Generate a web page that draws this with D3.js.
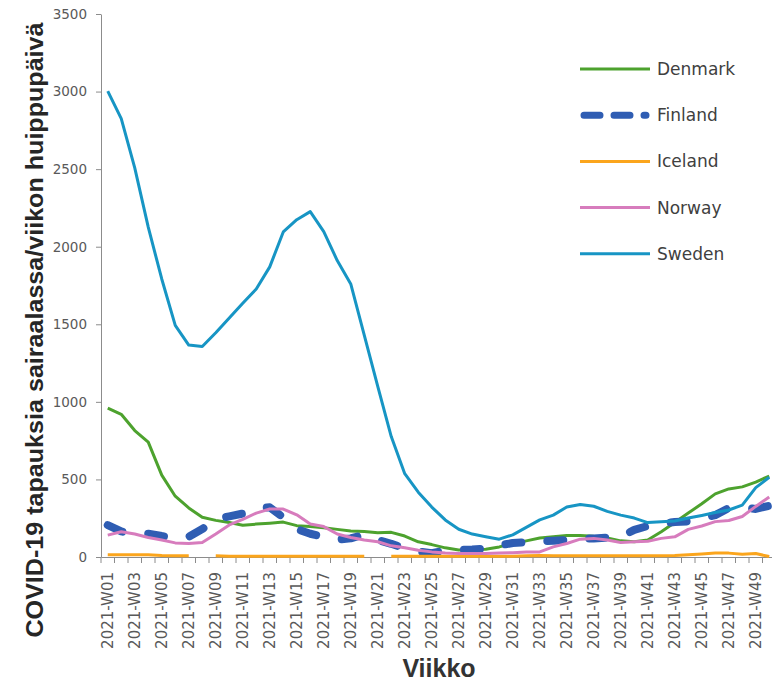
<!DOCTYPE html>
<html>
<head>
<meta charset="utf-8">
<script src="https://cdn.jsdelivr.net/npm/d3@7"></script>
<style>
  body { margin: 0; background: #fff; }
  .axis path, .axis line { stroke: #8c8c8c; }
  .axis text { fill: #595959; font-family: "DejaVu Sans", sans-serif; }
</style>
</head>
<body>
<div id="chart"></div>
<script>
//
// Data
//
var weeks = ["2021-W01","2021-W02","2021-W03","2021-W04","2021-W05","2021-W06","2021-W07","2021-W08","2021-W09","2021-W10",
             "2021-W11","2021-W12","2021-W13","2021-W14","2021-W15","2021-W16","2021-W17","2021-W18","2021-W19","2021-W20",
             "2021-W21","2021-W22","2021-W23","2021-W24","2021-W25","2021-W26","2021-W27","2021-W28","2021-W29","2021-W30",
             "2021-W31","2021-W32","2021-W33","2021-W34","2021-W35","2021-W36","2021-W37","2021-W38","2021-W39","2021-W40",
             "2021-W41","2021-W42","2021-W43","2021-W44","2021-W45","2021-W46","2021-W47","2021-W48","2021-W49","2021-W50"];

var denmark = [960, 920, 815, 740, 528, 392, 316, 256, 236, 222, 205, 212, 218, 225, 202, 196, 189, 178, 167, 165,
               157, 159, 135, 98, 80, 59, 45, 48, 50, 65, 87, 104, 122, 130, 139, 139, 133, 122, 104, 98,
               109, 163, 222, 283, 343, 407, 439, 452, 483, 522];

var finland = [205, 165, 150, 150, 135, 122, 130, 180, 245, 262, 280, 315, 320, 255, 180, 150, 130, 112, 120, 145,
               110, 85, 55, 35, 25, 42, 45, 48, 55, 75, 90, 95, 100, 105, 110, 118, 120, 125, 130, 175,
               200, 215, 225, 230, 250, 270, 315, 320, 310, 330];

var iceland = [15, 15, 15, 15, 10, 8, 8, null, 8, 5, 5, 5, 5, 5, 5, 5, 5, 5, 5, 5,
               null, 5, 5, 5, 5, 5, 5, 5, 5, 5, 5, 8, 10, 8, 8, 8, 8, 8, 8, 8,
               8, 8, 10, 15, 20, 25, 25, 18, 22, 3];

var norway = [141, 163, 148, 126, 109, 91, 87, 93, 148, 207, 243, 283, 309, 309, 272, 213, 196, 148, 126, 109,
              98, 72, 59, 43, 33, 26, 22, 22, 22, 26, 28, 33, 33, 65, 87, 115, 120, 109, 93, 98,
              102, 120, 130, 178, 200, 228, 235, 261, 326, 387];

var sweden = [3003, 2826, 2508, 2126, 1792, 1493, 1366, 1357, 1445, 1541, 1636, 1727, 1870, 2095, 2174, 2226, 2097, 1911, 1760, 1430,
              1100, 776, 537, 418, 322, 239, 179, 148, 131, 115, 143, 191, 239, 270, 322, 339, 327, 294, 270, 251,
              222, 227, 232, 251, 268, 287, 303, 334, 447, 514];

var yTicks = [0, 500, 1000, 1500, 2000, 2500, 3000, 3500];

var series = [
    {name: "Denmark", values: denmark, color: "#4da22e", width: 3, dash: null},
    {name: "Finland", values: finland, color: "#2f5db3", width: 8, dash: "16,26"},
    {name: "Iceland", values: iceland, color: "#fba51c", width: 3, dash: null},
    {name: "Norway",  values: norway,  color: "#d77cbd", width: 3, dash: null},
    {name: "Sweden",  values: sweden,  color: "#1795c4", width: 3, dash: null}
];

//
// Global Vars
//
var width = 772,
    height = 685,
    plot = {left: 101, right: 776, top: 14, bottom: 557};

var svg = d3.select("#chart").append("svg")
    .attr("width", width)
    .attr("height", height);

var x = d3.scaleBand().domain(weeks).range([plot.left, plot.right]);
var y = d3.scaleLinear().domain([0, 3500]).range([plot.bottom, plot.top]);

//
// Axes
//
var yAxis = svg.append("g")
    .attr("class", "axis")
    .attr("transform", "translate(" + plot.left + ",0)")
    .call(d3.axisLeft(y).tickValues(yTicks).tickFormat(d3.format("d"))
        .tickSize(5).tickPadding(9).tickSizeOuter(0));
yAxis.selectAll("text").style("font-size", "13.5px");

var xAxis = svg.append("g")
    .attr("class", "axis")
    .attr("transform", "translate(0," + plot.bottom + ")")
    .call(d3.axisBottom(x).tickSize(0).tickSizeOuter(0)
        .tickFormat(function(d, i) { return i % 2 == 0 ? d : ""; }));
xAxis.selectAll(".tick line").remove();
xAxis.selectAll("text")
    .style("font-size", "15px")
    .attr("transform", "rotate(-90)")
    .attr("text-anchor", "end")
    .attr("x", -15)
    .attr("y", 0)
    .attr("dy", "0.35em");

// boundary ticks between categories
var bounds = weeks.map(function(d) { return x(d); }).concat([plot.right]);
xAxis.selectAll("line.bound")
    .data(bounds)
    .enter().append("line")
    .attr("class", "bound")
    .attr("x1", function(d) { return d; })
    .attr("x2", function(d) { return d; })
    .attr("y1", 0)
    .attr("y2", 6);

//
// Lines
//
var line = d3.line()
    .defined(function(d) { return d != null; })
    .x(function(d, i) { return x(weeks[i]) + x.bandwidth() / 2; })
    .y(function(d) { return y(d); });

svg.append("g")
    .selectAll("path")
    .data(series)
    .enter().append("path")
    .attr("d", function(d) { return line(d.values); })
    .attr("fill", "none")
    .attr("stroke", function(d) { return d.color; })
    .attr("stroke-width", function(d) { return d.width; })
    .attr("stroke-dasharray", function(d) { return d.dash; })
    .attr("stroke-linecap", function(d) { return d.dash ? "round" : "butt"; })
    .attr("stroke-linejoin", "round");

//
// Legend
//
var legend = svg.append("g")
    .selectAll("g")
    .data(series)
    .enter().append("g")
    .attr("transform", function(d, i) { return "translate(580," + (69 + i * 46.2) + ")"; });

legend.append("line")
    .attr("x1", function(d) { return d.dash ? 4 : 0; })
    .attr("x2", function(d) { return d.dash ? 66 : 70; })
    .attr("stroke", function(d) { return d.color; })
    .attr("stroke-width", function(d) { return d.dash ? 7 : 3; })
    .attr("stroke-dasharray", function(d) { return d.dash ? "16,14" : null; })
    .attr("stroke-linecap", function(d) { return d.dash ? "round" : "butt"; });

legend.append("text")
    .attr("x", 77)
    .attr("dy", "0.35em")
    .style("font-family", "DejaVu Sans, sans-serif")
    .style("font-size", "17px")
    .style("fill", "#404040")
    .text(function(d) { return d.name; });

//
// Axis titles
//
svg.append("text")
    .attr("transform", "translate(43,330) rotate(-90)")
    .attr("text-anchor", "middle")
    .attr("textLength", 615)
    .attr("lengthAdjust", "spacingAndGlyphs")
    .style("font-family", "Liberation Sans, Arial, sans-serif")
    .style("font-weight", "bold")
    .style("font-size", "24px")
    .style("fill", "#262626")
    .text("COVID-19 tapauksia sairaalassa/viikon huippupäivä");

svg.append("text")
    .attr("x", 439)
    .attr("y", 677)
    .attr("text-anchor", "middle")
    .style("font-family", "Liberation Sans, Arial, sans-serif")
    .style("font-weight", "bold")
    .style("font-size", "25px")
    .style("fill", "#333")
    .text("Viikko");
</script>
</body>
</html>
